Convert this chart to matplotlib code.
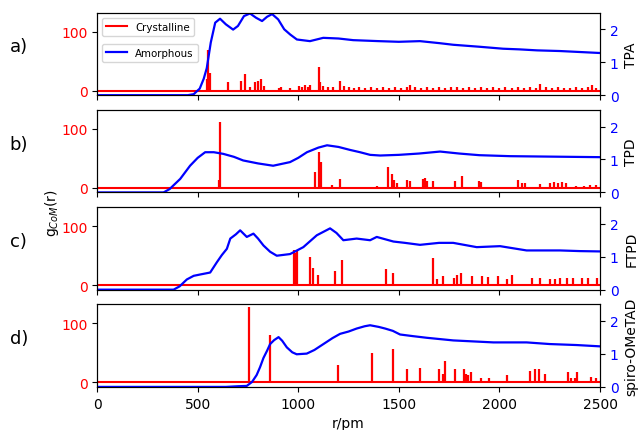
import numpy as np
import matplotlib.pyplot as plt

# amorphous g(r), right axis
a_am_r = [0, 450, 480, 510, 530, 545, 565, 587, 611, 640, 676, 700, 730, 760, 790, 820, 845, 870, 900, 930, 960, 993, 1058, 1124, 1200, 1273, 1400, 1500, 1605, 1700, 1770, 1900, 2018, 2100, 2187, 2300, 2400, 2500]
a_am_g = [0, 0, 0.03, 0.2, 0.5, 0.82, 1.6, 2.2, 2.32, 2.15, 1.99, 2.1, 2.4, 2.48, 2.35, 2.25, 2.38, 2.46, 2.3, 2.0, 1.84, 1.69, 1.64, 1.74, 1.72, 1.67, 1.64, 1.62, 1.64, 1.58, 1.53, 1.47, 1.41, 1.39, 1.36, 1.34, 1.31, 1.28]

b_am_r = [0, 330, 360, 413, 462, 500, 537, 580, 627, 680, 726, 800, 875, 959, 1000, 1043, 1100, 1143, 1200, 1257, 1307, 1357, 1407, 1500, 1600, 1705, 1800, 1900, 2053, 2200, 2350, 2500]
b_am_g = [0, 0, 0.1, 0.41, 0.81, 1.05, 1.22, 1.22, 1.17, 1.08, 0.97, 0.88, 0.81, 0.92, 1.05, 1.22, 1.36, 1.43, 1.38, 1.29, 1.22, 1.14, 1.12, 1.14, 1.18, 1.24, 1.18, 1.13, 1.10, 1.09, 1.08, 1.07]

c_am_r = [0, 380, 410, 446, 480, 512, 562, 595, 620, 645, 662, 690, 711, 744, 777, 800, 827, 860, 893, 959, 1025, 1092, 1158, 1190, 1224, 1290, 1357, 1390, 1473, 1530, 1605, 1700, 1770, 1887, 2003, 2135, 2301, 2400, 2500]
c_am_g = [0, 0, 0.1, 0.31, 0.42, 0.46, 0.52, 0.83, 1.05, 1.24, 1.55, 1.68, 1.80, 1.60, 1.70, 1.55, 1.34, 1.15, 1.03, 1.08, 1.29, 1.65, 1.86, 1.72, 1.50, 1.55, 1.50, 1.60, 1.46, 1.42, 1.36, 1.42, 1.42, 1.29, 1.32, 1.19, 1.19, 1.17, 1.16]

d_am_r = [0, 640, 700, 744, 770, 793, 810, 827, 845, 860, 880, 902, 920, 943, 970, 992, 1042, 1080, 1125, 1170, 1208, 1250, 1290, 1330, 1357, 1400, 1432, 1470, 1506, 1570, 1639, 1771, 1970, 2135, 2250, 2383, 2500]
d_am_g = [0, 0, 0.02, 0.03, 0.15, 0.36, 0.6, 0.88, 1.1, 1.30, 1.42, 1.51, 1.40, 1.20, 1.05, 0.99, 1.01, 1.12, 1.30, 1.48, 1.61, 1.68, 1.77, 1.84, 1.87, 1.82, 1.77, 1.70, 1.59, 1.54, 1.49, 1.41, 1.35, 1.35, 1.30, 1.27, 1.23]

# crystalline peaks (r, height), left axis
a_cr = [(545, 20), (553, 69), (560, 30), (652, 15), (714, 16), (736, 29), (760, 6), (785, 14), (798, 17), (814, 20), (830, 8),
        (905, 5), (915, 6), (960, 5), (1005, 8), (1020, 6), (1035, 10), (1048, 7), (1060, 10), (1103, 40), (1110, 14),
        (1125, 8), (1150, 6), (1175, 7), (1207, 16), (1225, 8), (1250, 6), (1275, 5), (1300, 7), (1330, 5), (1360, 6),
        (1390, 4), (1420, 6), (1450, 5), (1480, 7), (1510, 5), (1540, 6), (1555, 10), (1580, 6), (1610, 5), (1640, 7),
        (1670, 5), (1700, 6), (1730, 5), (1760, 7), (1790, 6), (1820, 5), (1850, 7), (1880, 5), (1910, 6), (1940, 5),
        (1970, 6), (2000, 5), (2030, 7), (2060, 5), (2090, 6), (2120, 5), (2150, 6), (2180, 5), (2200, 12), (2230, 6),
        (2260, 5), (2290, 6), (2320, 5), (2350, 5), (2380, 6), (2410, 5), (2440, 6), (2460, 10), (2480, 5)]
b_cr = [(605, 14), (611, 111), (1083, 27), (1102, 61), (1115, 44), (1170, 5), (1208, 15), (1390, 3), (1448, 36), (1468, 24),
        (1478, 14), (1491, 8), (1540, 14), (1555, 12), (1620, 15), (1630, 17), (1640, 12), (1670, 12), (1779, 12), (1814, 20),
        (1900, 12), (1910, 10), (2092, 13), (2110, 8), (2125, 8), (2202, 7), (2250, 8), (2270, 10), (2290, 8), (2310, 10),
        (2330, 8), (2380, 4), (2420, 4), (2450, 5), (2480, 5)]
c_cr = [(980, 59), (988, 55), (995, 59), (1060, 47), (1075, 29), (1100, 18), (1183, 24), (1219, 42), (1436, 28), (1470, 20),
        (1672, 46), (1690, 10), (1718, 15), (1773, 12), (1790, 18), (1807, 20), (1862, 15), (1912, 15), (1945, 14), (1992, 15),
        (2040, 10), (2061, 18), (2160, 12), (2202, 12), (2251, 10), (2275, 10), (2301, 12), (2334, 12), (2367, 12), (2409, 12),
        (2442, 12), (2484, 12)]
d_cr = [(755, 128), (860, 80), (1196, 30), (1368, 50), (1473, 57), (1539, 22), (1605, 25), (1701, 22), (1719, 14), (1729, 37),
        (1779, 23), (1825, 23), (1836, 15), (1845, 12), (1857, 17), (1908, 8), (1950, 8), (2036, 13), (2152, 20), (2177, 23),
        (2198, 23), (2226, 14), (2342, 17), (2355, 8), (2375, 8), (2387, 17), (2453, 10), (2480, 8)]

names = ['TPA', 'TPD', 'FTPD', 'spiro-OMeTAD']
letters = ['a)', 'b)', 'c)', 'd)']
amorph = [(a_am_r, a_am_g), (b_am_r, b_am_g), (c_am_r, c_am_g), (d_am_r, d_am_g)]
cryst = [a_cr, b_cr, c_cr, d_cr]

fig, axes = plt.subplots(4, 1, figsize=(6.39, 4.31), dpi=100, sharex=True)
fig.subplots_adjust(left=0.152, right=0.939, top=0.968, bottom=0.1, hspace=0.18)

for i, ax in enumerate(axes):
    pk = np.array(cryst[i])
    ax.axhline(0, color='r', lw=1.5, label='Crystalline')
    ax.vlines(pk[:, 0], 0, pk[:, 1], color='r', lw=1.6)
    ax.set_ylim(-7.5, 132)
    ax.set_yticks([0, 100])
    ax.tick_params(axis='y', labelcolor='r', labelsize=10)
    ax.set_xlim(0, 2500)
    ax.set_xticks([0, 500, 1000, 1500, 2000, 2500])
    ax.tick_params(axis='x', labelsize=10)

    ax2 = ax.twinx()
    ax2.plot(amorph[i][0], amorph[i][1], color='b', lw=1.6, label='Amorphous')
    ax2.set_ylim(0, 2.5)
    ax2.set_yticks([0, 1, 2])
    ax2.tick_params(axis='y', labelcolor='b', labelsize=10)
    ax2.set_ylabel(names[i], fontsize=10)

    pos = ax.get_position()
    fig.text(0.015, pos.y1 - 0.078, letters[i], fontsize=13, va='center')

    if i == 0:
        ax.legend(loc='upper left', fontsize=7.4)
        ax2.legend(loc='upper left', bbox_to_anchor=(0, 0.685), fontsize=7.4)

axes[-1].set_xlabel('r/pm', fontsize=10)
fig.text(0.082, 0.505, 'g$_{CoM}$(r)', rotation=90, fontsize=10, va='center', ha='center')

plt.savefig('out.png', dpi=100)
